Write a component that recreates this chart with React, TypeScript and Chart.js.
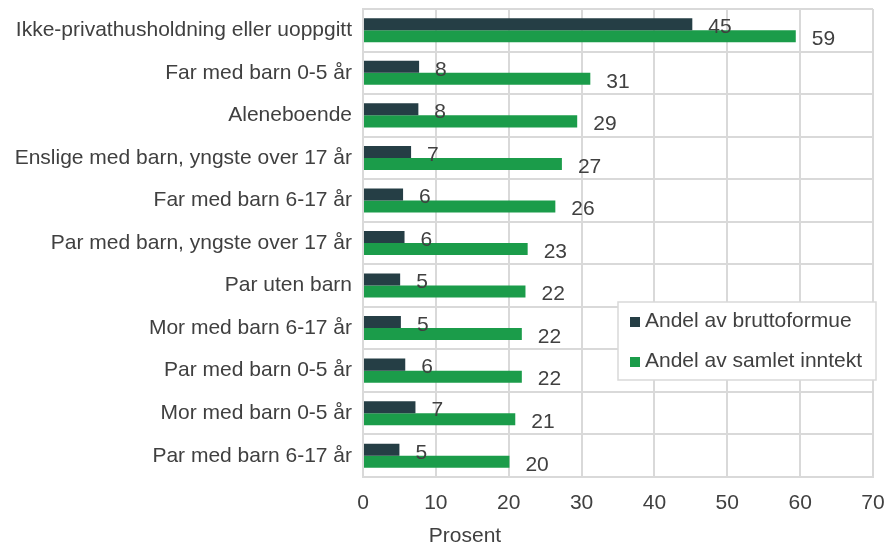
import React, { useEffect, useRef } from "react";
import { Chart, registerables } from "chart.js";

Chart.register(...registerables);

const categories = [
  "Ikke-privathusholdning eller uoppgitt",
  "Far med barn 0-5 år",
  "Aleneboende",
  "Enslige med barn, yngste over 17 år",
  "Far med barn 6-17 år",
  "Par med barn, yngste over 17 år",
  "Par uten barn",
  "Mor med barn 6-17 år",
  "Par med barn 0-5 år",
  "Mor med barn 0-5 år",
  "Par med barn 6-17 år",
];

const bruttoformue = [45.2, 7.7, 7.6, 6.6, 5.5, 5.7, 5.1, 5.2, 5.8, 7.2, 5.0];
const samletInntekt = [59.4, 31.2, 29.4, 27.3, 26.4, 22.6, 22.3, 21.8, 21.8, 20.9, 20.1];

const seriesNames = ["Andel av bruttoformue", "Andel av samlet inntekt"];
const seriesColors = ["#253E45", "#1B9C4A"];
const xTicks = [0, 10, 20, 30, 40, 50, 60, 70];
const xTitle = "Prosent";

const FONT = "'Liberation Sans', Arial, sans-serif";
const FS = 21;
const TEXT = "#404040";
const GRID = "#d9d9d9";

const labelsPlugin = {
  id: "valueLabels",
  afterDatasetsDraw(chart: any) {
    const ctx = chart.ctx;
    ctx.save();
    ctx.font = `${FS}px ${FONT}`;
    ctx.fillStyle = TEXT;
    ctx.textAlign = "left";
    ctx.textBaseline = "middle";
    chart.data.datasets.forEach((ds: any, di: number) => {
      const meta = chart.getDatasetMeta(di);
      meta.data.forEach((bar: any, i: number) => {
        const v = Math.round(ds.data[i]);
        ctx.fillText(String(v), bar.x + 16, bar.y + 3);
      });
    });
    ctx.restore();
  },
};

const legendPlugin = {
  id: "boxLegend",
  afterDraw(chart: any) {
    const ctx = chart.ctx;
    const ca = chart.chartArea;
    const x0 = ca.right - 255;
    const y0 = 302;
    const w = 258;
    const h = 78;
    ctx.save();
    ctx.fillStyle = "#ffffff";
    ctx.fillRect(x0, y0, w, h);
    ctx.strokeStyle = "#d9d9d9";
    ctx.lineWidth = 1.5;
    ctx.strokeRect(x0, y0, w, h);
    ctx.font = `${FS}px ${FONT}`;
    ctx.textAlign = "left";
    ctx.textBaseline = "middle";
    chart.data.datasets.forEach((ds: any, i: number) => {
      const cy = y0 + 20 + i * 40;
      ctx.fillStyle = ds.backgroundColor;
      ctx.fillRect(x0 + 12, cy - 5, 10, 10);
      ctx.fillStyle = TEXT;
      ctx.fillText(ds.label, x0 + 27, cy - 1);
    });
    ctx.restore();
  },
};

const titlePlugin = {
  id: "xTitle",
  afterDraw(chart: any) {
    const ctx = chart.ctx;
    const ca = chart.chartArea;
    ctx.save();
    ctx.font = `${FS}px ${FONT}`;
    ctx.fillStyle = TEXT;
    ctx.textAlign = "center";
    ctx.textBaseline = "alphabetic";
    ctx.fillText(xTitle, ca.left + 102, chart.height - 2);
    ctx.restore();
  },
};

export default function App() {
  const ref = useRef<HTMLCanvasElement>(null);

  useEffect(() => {
    document.body.style.margin = "0";
    const chart = new Chart(ref.current as HTMLCanvasElement, {
      type: "bar",
      data: {
        labels: categories,
        datasets: [
          {
            label: seriesNames[0],
            data: bruttoformue,
            backgroundColor: seriesColors[0],
            categoryPercentage: 0.565,
            barPercentage: 1,
          },
          {
            label: seriesNames[1],
            data: samletInntekt,
            backgroundColor: seriesColors[1],
            categoryPercentage: 0.565,
            barPercentage: 1,
          },
        ],
      },
      options: {
        indexAxis: "y",
        animation: false,
        responsive: false,
        maintainAspectRatio: false,
        layout: { padding: { top: 9, right: 15, bottom: 0, left: 0 } },
        plugins: {
          legend: { display: false },
          tooltip: { enabled: false },
          title: { display: false },
        },
        scales: {
          x: {
            min: 0,
            max: 70,
            afterBuildTicks(scale: any) {
              scale.ticks = xTicks.map((v) => ({ value: v }));
            },
            ticks: {
              font: { family: FONT, size: FS },
              color: TEXT,
              padding: 14,
            },
            grid: { color: GRID, lineWidth: 2, drawTicks: false },
            border: { color: GRID, width: 2 },
            afterFit(scale: any) {
              scale.height = 67;
              scale.paddingLeft = 0;
              scale.paddingRight = 0;
            },
          },
          y: {
            ticks: {
              font: { family: FONT, size: FS },
              color: TEXT,
              padding: 11,
            },
            grid: { color: GRID, lineWidth: 2, drawTicks: false },
            border: { color: GRID, width: 2 },
            afterFit(scale: any) {
              scale.width = 363;
              scale.paddingTop = 0;
              scale.paddingBottom = 0;
            },
          },
        },
      },
      plugins: [labelsPlugin, legendPlugin, titlePlugin],
    });
    return () => chart.destroy();
  }, []);

  return (
    <div style={{ width: 888, height: 544 }}>
      <canvas ref={ref} width={888} height={544} style={{ display: "block" }} />
    </div>
  );
}
